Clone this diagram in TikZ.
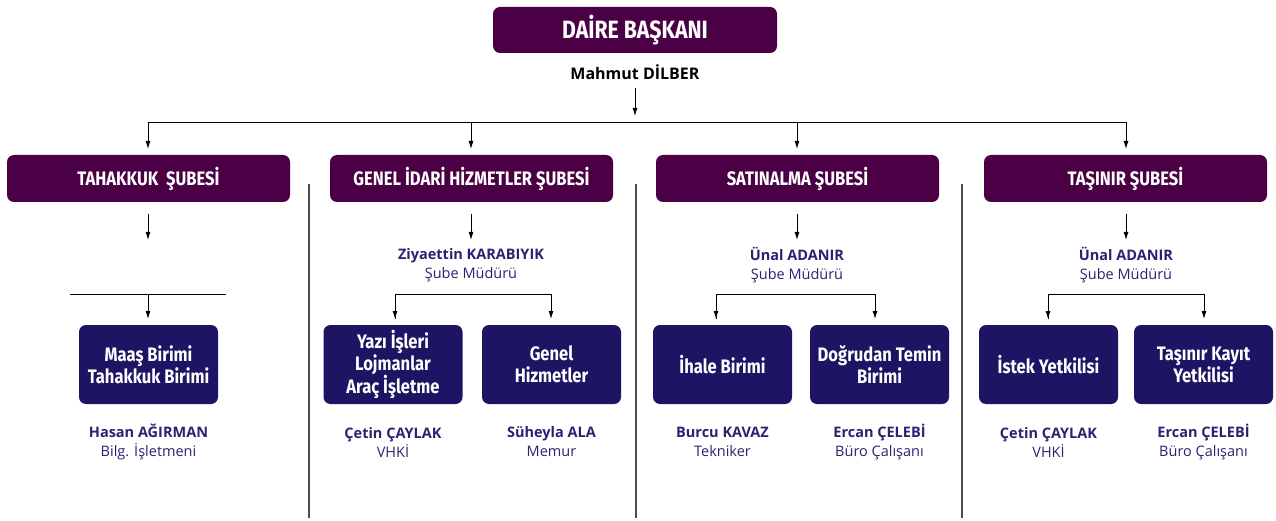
\documentclass[tikz,border=0pt]{standalone}
\usepackage{fontspec}
\setmainfont{Open Sans}
\newfontfamily\boxfont[FakeStretch=0.85]{Fira Sans}
\usetikzlibrary{arrows.meta}
\definecolor{deptpurple}{HTML}{4B0045}
\definecolor{unitnavy}{HTML}{1D1564}
\definecolor{nametext}{HTML}{2A2270}
\tikzset{
  x=1pt,y=-1pt,
  topbox/.style={fill=deptpurple,rounded corners=7pt,text=white,font=\boxfont\bfseries\fontsize{25}{28}\selectfont,inner sep=0pt},
  deptbox/.style={fill=deptpurple,rounded corners=7pt,text=white,font=\boxfont\bfseries\fontsize{19.5}{21}\selectfont,inner sep=0pt,minimum width=283pt,minimum height=47pt},
  unitbox/.style={fill=unitnavy,rounded corners=7pt,text=white,font=\boxfont\bfseries\fontsize{19.5}{22}\selectfont,align=center,inner sep=0pt,minimum width=139pt,minimum height=79pt},
  person/.style={text=nametext,align=center,font=\fontsize{14.5}{19}\selectfont},
  arr/.style={-{Latex[length=8pt,width=5pt]},line width=0.9pt,black},
  ln/.style={line width=0.9pt,black},
  sep/.style={line width=1.4pt,black!70},
}
\begin{document}
\begin{tikzpicture}
\useasboundingbox (0,0) rectangle (1276,521);
% top
\node[topbox,minimum width=284pt,minimum height=46pt] (top) at (635,30) {DAİRE BAŞKANI};
\node[font=\bfseries\fontsize{16}{18}\selectfont] (head) at (635,72) {Mahmut DİLBER};
\coordinate (hl) at (148,122);
\coordinate (hr) at (1126,122);
\draw[arr] (635,88) -- (635,116);
\draw[ln] (hl) -- (hr);
% departments
\node[deptbox] (d1) at (148.5,178.5) {TAHAKKUK\ \ ŞUBESİ};
\node[deptbox] (d2) at (471.5,178.5) {GENEL İDARİ HİZMETLER ŞUBESİ};
\node[deptbox] (d3) at (797.5,178.5) {SATINALMA ŞUBESİ};
\node[deptbox] (d4) at (1125.5,178.5) {TAŞINIR ŞUBESİ};
\draw[arr] (hl) -- (148,149);
\draw[arr] (471,122) -- (471,149);
\draw[arr] (797,122) -- (797,149);
\draw[arr] (hr) -- (1126,149);
% separators
\draw[sep] (309,184) -- (309,518);
\draw[sep] (636,184) -- (636,518);
\draw[sep] (962,184) -- (962,518);
% arrows under departments
\draw[arr] (148,214) -- (148,240);
\draw[arr] (471,214) -- (471,240);
\draw[arr] (797,214) -- (797,240);
\draw[arr] (1126,214) -- (1126,240);
% managers
\node[person] (m2) at (471,265) {\textbf{Ziyaettin KARABIYIK}\\Şube Müdürü};
\node[person] (m3) at (797,265) {\textbf{Ünal ADANIR}\\Şube Müdürü};
\node[person] (m4) at (1126,265) {\textbf{Ünal ADANIR}\\Şube Müdürü};
% branching lines
\draw[ln] (70,294) -- (226,294);
\draw[arr] (148,294) -- (148,319);
\draw[arr] (395,319) |- (551,294) -- (551,319);
\draw[arr] (716,319) |- (875,294) -- (875,319);
\draw[arr] (1048,319) |- (1204,294) -- (1204,319);
\draw[arr] (395,294) -- (395,319);
\draw[arr] (716,294) -- (716,319);
\draw[arr] (1048,294) -- (1048,319);
% units
\node[unitbox] (u1) at (148.5,364.5) {Maaş Birimi\\Tahakkuk Birimi};
\node[unitbox] (u2) at (393,364.5) {Yazı İşleri\\Lojmanlar\\Araç İşletme};
\node[unitbox] (u3) at (551.5,364.5) {Genel\\Hizmetler};
\node[unitbox] (u4) at (722.5,364.5) {İhale Birimi};
\node[unitbox] (u5) at (879.5,364.5) {Doğrudan Temin\\Birimi};
\node[unitbox] (u6) at (1048.5,364.5) {İstek Yetkilisi};
\node[unitbox] (u7) at (1203.5,364.5) {Taşınır Kayıt\\Yetkilisi};
% persons
\node[person] (p1) at (148.5,442) {\textbf{Hasan AĞIRMAN}\\Bilg. İşletmeni};
\node[person] (p2) at (393,442) {\textbf{Çetin ÇAYLAK}\\VHKİ};
\node[person] (p3) at (551.5,442) {\textbf{Süheyla ALA}\\Memur};
\node[person] (p4) at (722.5,442) {\textbf{Burcu KAVAZ}\\Tekniker};
\node[person] (p5) at (879.5,442) {\textbf{Ercan ÇELEBİ}\\Büro Çalışanı};
\node[person] (p6) at (1048.5,442) {\textbf{Çetin ÇAYLAK}\\VHKİ};
\node[person] (p7) at (1203.5,442) {\textbf{Ercan ÇELEBİ}\\Büro Çalışanı};
\end{tikzpicture}
\end{document}
